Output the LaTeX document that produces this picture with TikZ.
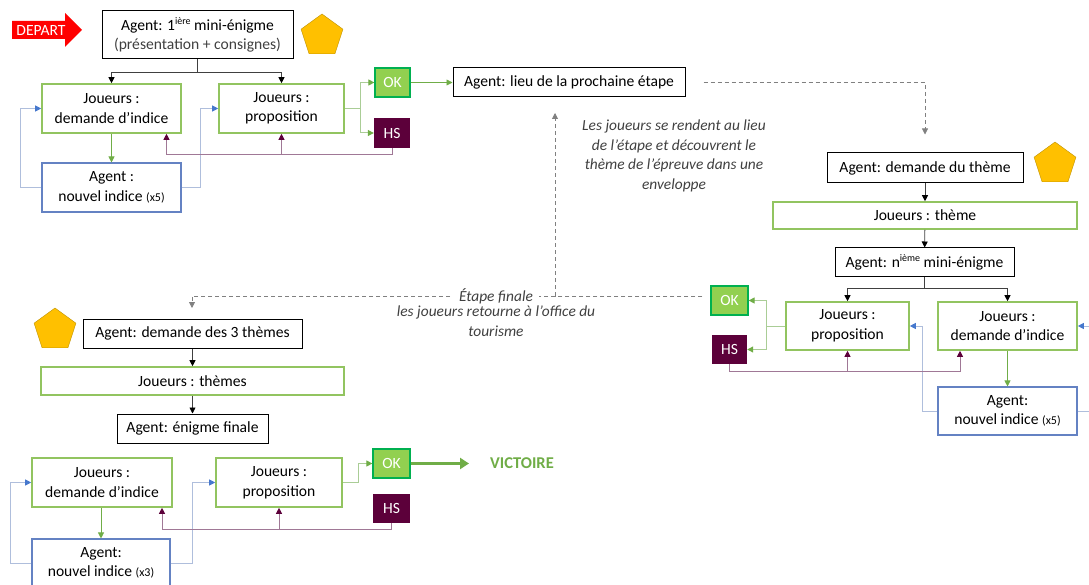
\documentclass[tikz,border=0pt]{standalone}
\usepackage{fontspec}
\setmainfont{Carlito}
\usetikzlibrary{arrows.meta,shapes.geometric}
\definecolor{okgreen}{RGB}{146,208,80}
\definecolor{okborder}{RGB}{0,176,80}
\definecolor{boxgreen}{RGB}{146,196,96}
\definecolor{arrowgreen}{RGB}{112,173,71}
\definecolor{palegreen}{RGB}{170,205,150}
\definecolor{boxblue}{RGB}{100,130,195}
\definecolor{paleblue}{RGB}{175,190,220}
\definecolor{tipblue}{RGB}{70,120,205}
\definecolor{hspurple}{RGB}{92,0,58}
\definecolor{palepurple}{RGB}{160,120,150}
\definecolor{gold}{RGB}{255,192,0}
\definecolor{goldline}{RGB}{190,145,0}
\definecolor{dashgrey}{RGB}{128,128,128}
\definecolor{notegrey}{RGB}{64,64,64}
\newcommand{\expo}[1]{\raisebox{5.5pt}{\fontsize{10}{10}\selectfont #1}}
\newcommand{\petit}[1]{{\fontsize{12}{12}\selectfont #1}}

\begin{document}
\begin{tikzpicture}[x=1pt, y=-1pt,
  every node/.style={font=\fontsize{15.6}{19.5}\selectfont, inner sep=0pt, align=center},
  agent/.style={draw=black, line width=1pt, fill=white},
  joueur/.style={draw=boxgreen, line width=1.6pt, fill=white},
  indice/.style={draw=boxblue, line width=1.1pt, fill=white},
  okbox/.style={fill=okgreen, draw=okborder, line width=1.2pt, text=white},
  hsbox/.style={fill=hspurple, text=white},
  penta/.style={regular polygon, regular polygon sides=5, fill=gold, draw=goldline, minimum size=44pt},
  blk/.style={draw=black!75, line width=0.8pt, -{Triangle[length=6pt,width=6pt,color=black]}},
  grn/.style={draw=arrowgreen, line width=0.8pt, -{Triangle[length=6pt,width=6pt]}},
  took/.style={draw=palegreen, line width=1pt, -{Triangle[length=6pt,width=6pt,color=arrowgreen]}},
  blu/.style={draw=paleblue, line width=1pt, -{Triangle[length=6pt,width=6pt,color=tipblue]}},
  pur/.style={draw=palepurple, line width=1pt, -{Triangle[length=6pt,width=6pt,color=hspurple]}},
  dashline/.style={draw=dashgrey, dash pattern=on 4pt off 3pt, line width=0.8pt, -{Triangle[length=6pt,width=6pt,color=dashgrey]}},
  win/.style={draw=arrowgreen, line width=3pt, -{Triangle[length=9pt,width=11pt]}},
  note/.style={text=notegrey, font=\fontsize{15.4}{19.5}\selectfont\itshape}]
  \useasboundingbox (0,0) rectangle (1089,585);

  % depart
  \fill[red] (12,21) -- (65,21) -- (65,13) -- (82,30) -- (65,47) -- (65,39) -- (12,39) -- cycle;
  \node[text=white] (depart) at (41,30) {DEPART};

  % premiere etape
  \node[agent, minimum width=191pt, minimum height=48pt] (a1) at (197.5,35) {Agent: 1\expo{ière} mini-énigme\\\textcolor{notegrey}{(présentation + consignes)}};
  \node[penta] (pent1) at (322,36) {};
  \node[joueur, minimum width=139pt, minimum height=49pt] (d1) at (111.5,108.5) {Joueurs :\\demande d’indice};
  \node[joueur, minimum width=125pt, minimum height=49pt] (p1) at (281.5,108.5) {Joueurs :\\proposition};
  \node[indice, minimum width=139pt, minimum height=49pt] (n1) at (111.5,187.5) {Agent :\\nouvel indice \petit{(x5)}};
  \node[okbox, minimum width=35pt, minimum height=29pt] (ok1) at (392.5,82.5) {OK};
  \node[hsbox, minimum width=36pt, minimum height=30pt] (hs1) at (392,133) {HS};
  \node[agent, minimum width=232pt, minimum height=29pt] (lieu) at (569,82.5) {Agent: lieu de la prochaine étape};

  \draw[blk] (a1.south) -- ++(0,13) -| (d1.north);
  \draw[blk] (a1.south) -- ++(0,13) -| (p1.north);
  \draw[grn] (d1) -- (n1);
  \draw[blu] (n1.west) -- ++(-21,0) |- (d1.west);
  \draw[blu] (n1.east) -- ++(19,0) |- (p1.west);
  \draw[took] (p1.east) -- ++(16,0) |- (ok1.west);
  \draw[took] (p1.east) -- ++(16,0) |- (hs1.west);
  \draw[pur] (hs1.south) -- ++(0,6) -| ([xshift=55pt]d1.south);
  \draw[pur] (hs1.south) -- ++(0,6) -| (p1.south);
  \draw[grn] (ok1) -- (lieu);

  \node[note] (trajet) at (674,156) {Les joueurs se rendent au lieu\\de l’étape et découvrent le\\thème de l’épreuve dans une\\enveloppe};

  % etapes suivantes
  \node[agent, minimum width=196pt, minimum height=30pt] (theme) at (925,168) {Agent: demande du thème};
  \node[penta] (pent2) at (1055,164) {};
  \node[joueur, minimum width=304pt, minimum height=27pt] (jt) at (925,215.5) {Joueurs : thème};
  \node[agent, minimum width=179pt, minimum height=29pt] (n) at (924.5,262.5) {Agent: n\expo{ième} mini-énigme};
  \node[joueur, minimum width=123pt, minimum height=48pt] (p2) at (847.5,326) {Joueurs :\\proposition};
  \node[joueur, minimum width=139pt, minimum height=48pt] (d2) at (1007.5,326) {Joueurs :\\demande d’indice};
  \node[indice, minimum width=139pt, minimum height=48pt] (n2) at (1007.5,411) {Agent:\\nouvel indice \petit{(x5)}};
  \node[okbox, minimum width=37pt, minimum height=29pt] (ok2) at (729.5,300.5) {OK};
  \node[hsbox, minimum width=35pt, minimum height=29pt] (hs2) at (729.5,349.5) {HS};

  \draw[dashline] ([xshift=18pt]lieu.east) -| ([yshift=18pt]theme.north);
  \draw[blk] (theme) -- (jt);
  \draw[blk] (jt) -- (n);
  \draw[blk] (n.south) -- ++(0,11) -| (p2.north);
  \draw[blk] (n.south) -- ++(0,11) -| (d2.north);
  \draw[grn] (d2) -- (n2);
  \draw[blu] (n2.west) -- ++(-15,0) |- (p2.east);
  \draw[blu] (n2.east) -- ++(20,0) |- (d2.east);
  \draw[took] (p2.west) -- ++(-19,0) |- (ok2.east);
  \draw[took] (p2.west) -- ++(-19,0) |- (hs2.east);
  \draw[pur] (hs2.south) -- ++(0,7) -| (p2.south);
  \draw[pur] (hs2.south) -- ++(0,7) -| ([xshift=-47.5pt]d2.south);

  % retour
  \coordinate (split) at (555,296);
  \coordinate (uptip) at (555,113);
  \coordinate (downtip) at (192,308);
  \draw[dashline, -] ([xshift=-8pt,yshift=4.5pt]ok2.west) -- (split);
  \draw[dashline] (split) -- (uptip);
  \draw[dashline] (split) -| (downtip);
  \node[note, fill=white, inner xsep=6pt] (etape) at (496,296) {Étape finale};
  \node[note, anchor=north] (retour) at (496,306) {les joueurs retourne à l’office du\\tourisme};

  % etape finale
  \node[penta] (pent3) at (55,330) {};
  \node[agent, minimum width=219pt, minimum height=29pt] (t3) at (192.5,333.5) {Agent: demande des 3 thèmes};
  \node[joueur, minimum width=303pt, minimum height=28pt] (jt3) at (192.5,381) {Joueurs : thèmes};
  \node[agent, minimum width=151pt, minimum height=29pt] (fin) at (192.5,428.5) {Agent: énigme finale};
  \node[joueur, minimum width=140pt, minimum height=49pt] (d3) at (102,482.5) {Joueurs :\\demande d’indice};
  \node[joueur, minimum width=126pt, minimum height=49pt] (p3) at (279,482.5) {Joueurs :\\proposition};
  \node[indice, minimum width=138pt, minimum height=48pt] (n3) at (101,563) {Agent:\\nouvel indice \petit{(x3)}};
  \node[okbox, minimum width=37pt, minimum height=29pt] (ok3) at (391.5,463.5) {OK};
  \node[hsbox, minimum width=37pt, minimum height=29pt] (hs3) at (391.5,508.5) {HS};
  \node[text=arrowgreen, font=\fontsize{16.5}{17}\selectfont\bfseries, anchor=west, inner sep=3pt] (vic) at (487,463.5) {VICTOIRE};

  \draw[blk] (t3) -- (jt3);
  \draw[blk] (jt3) -- (fin);
  \draw[grn] (d3.south -| n3.north) -- (n3.north);
  \draw[blu] (n3.west) -- ++(-21,0) |- (d3.west);
  \draw[blu] (n3.east) -- ++(22,0) |- (p3.west);
  \draw[took] (p3.east) -- ++(16,0) |- (ok3.west);
  \draw[win] (ok3) -- (vic) [shorten >=18pt];
  \draw[pur] (hs3.south) -- ++(0,6) -| ([xshift=60pt]d3.south);
  \draw[pur] (hs3.south) -- ++(0,6) -| (p3.south);
\end{tikzpicture}
\end{document}
